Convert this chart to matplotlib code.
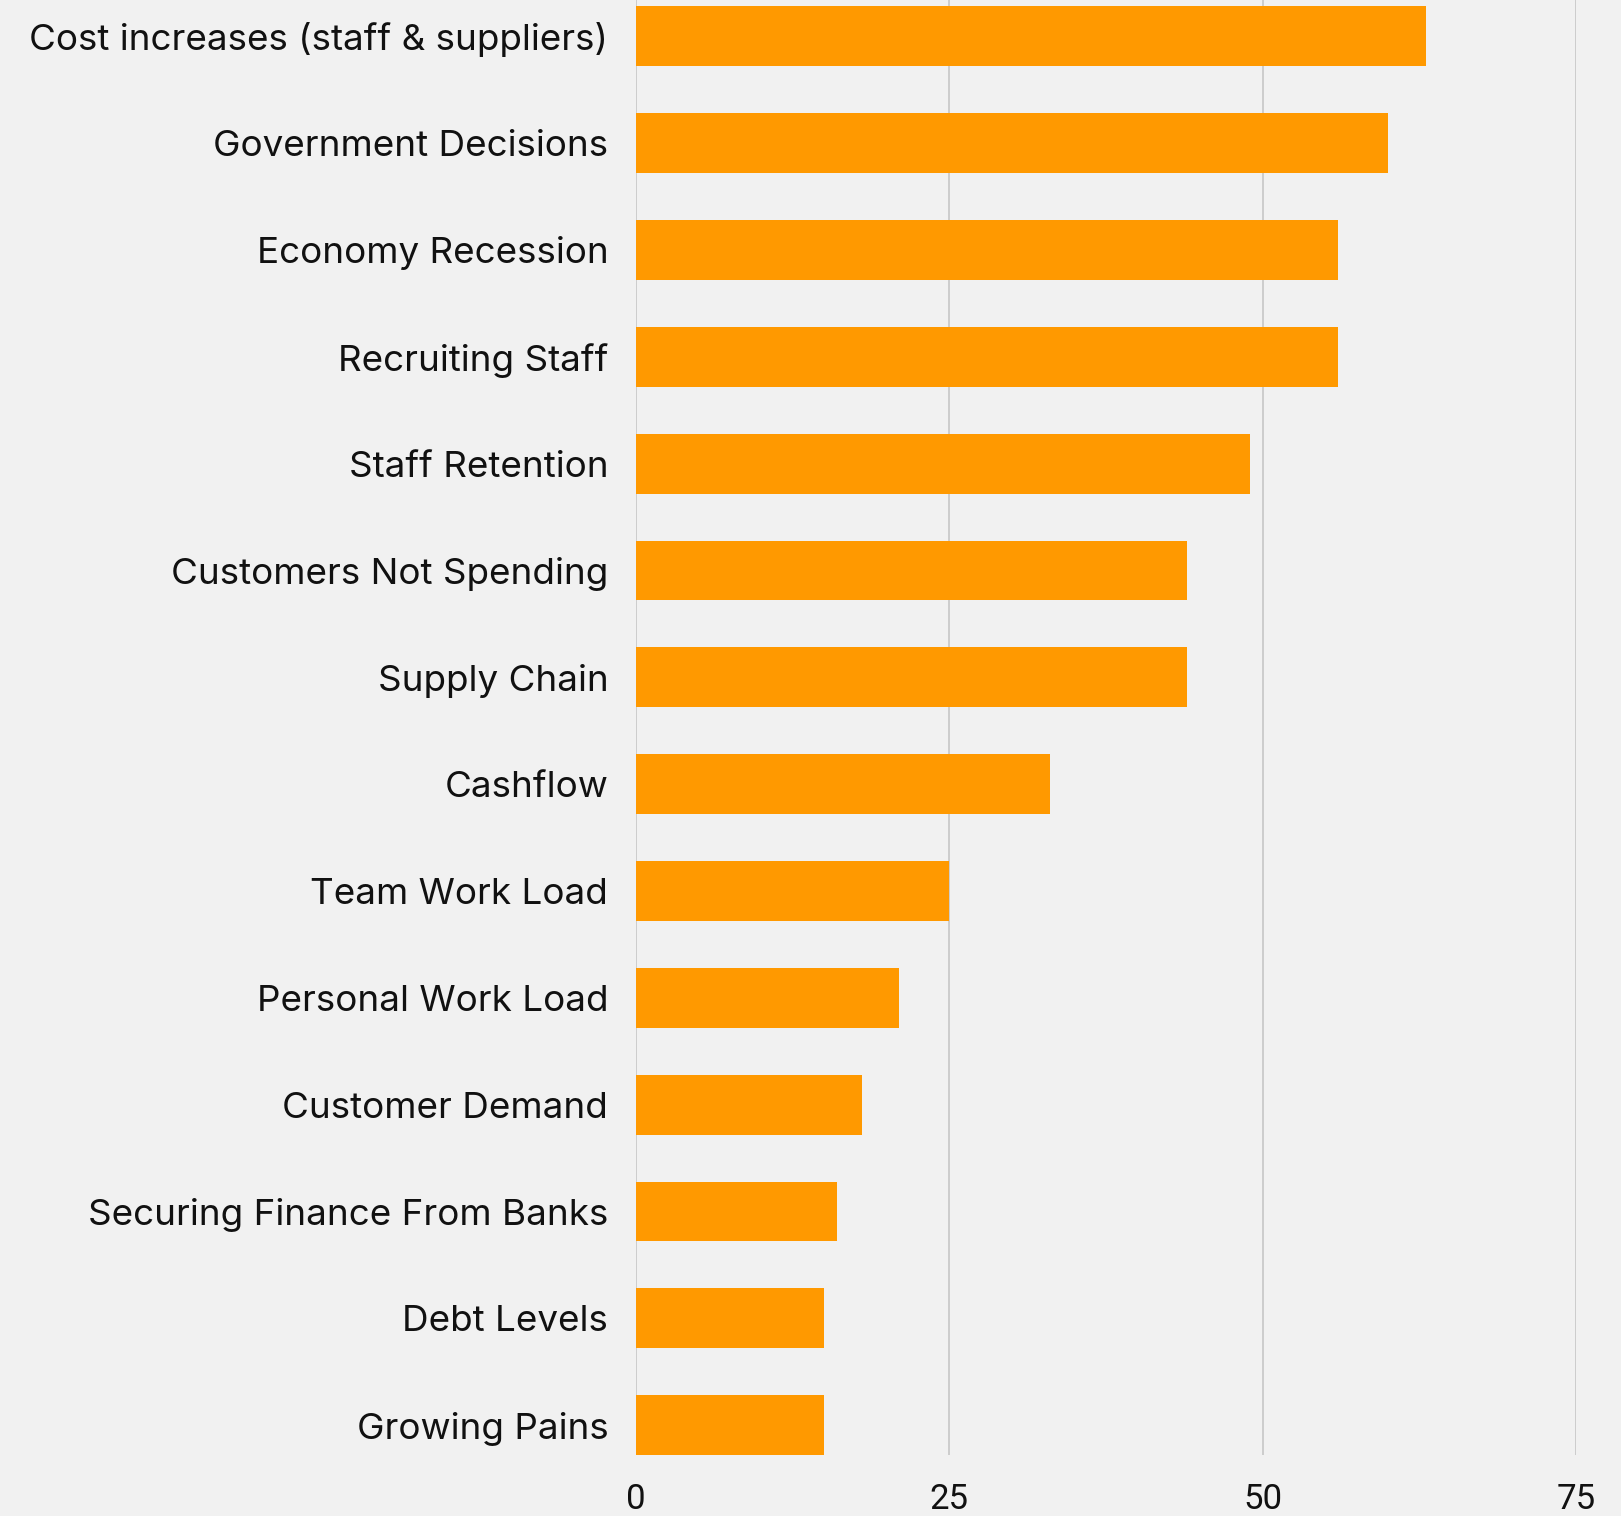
import matplotlib.pyplot as plt

categories = [
    "Cost increases (staff & suppliers)",
    "Government Decisions",
    "Economy Recession",
    "Recruiting Staff",
    "Staff Retention",
    "Customers Not Spending",
    "Supply Chain",
    "Cashflow",
    "Team Work Load",
    "Personal Work Load",
    "Customer Demand",
    "Securing Finance From Banks",
    "Debt Levels",
    "Growing Pains",
]
values = [63, 60, 56, 56, 49, 44, 44, 33, 25, 21, 18, 16, 15, 15]
x_ticks = [0, 25, 50, 75]

bg = "#f1f1f1"
plt.rcParams['font.family'] = ['Roboto', 'DejaVu Sans']

fig = plt.figure(figsize=(16.21, 15.16), dpi=100, facecolor=bg)
ax = fig.add_axes([0.3924, 0.0402, 0.5798, 0.9598], facecolor=bg)

ypos = list(range(len(categories)))
ax.barh(ypos, values, height=0.56, color="#ff9900", zorder=3)

ax.set_xlim(0, 75)
ax.set_ylim(13.28, -0.34)
ax.set_yticks(ypos)
ax.set_yticklabels(categories, fontsize=26.5, color="#111111", family=['Inter', 'DejaVu Sans'])
ax.set_xticks(x_ticks)
ax.set_xticklabels([str(t) for t in x_ticks], fontsize=25, color="#111111")
ax.tick_params(axis='y', length=0, pad=20)
ax.tick_params(axis='x', length=0, pad=20)

ax.grid(axis='x', color="#c6c6c6", linewidth=1.2, zorder=0)
ax.grid(axis='y', visible=False)
for s in ax.spines.values():
    s.set_visible(False)

fig.savefig("out.png", dpi=100, facecolor=bg)
